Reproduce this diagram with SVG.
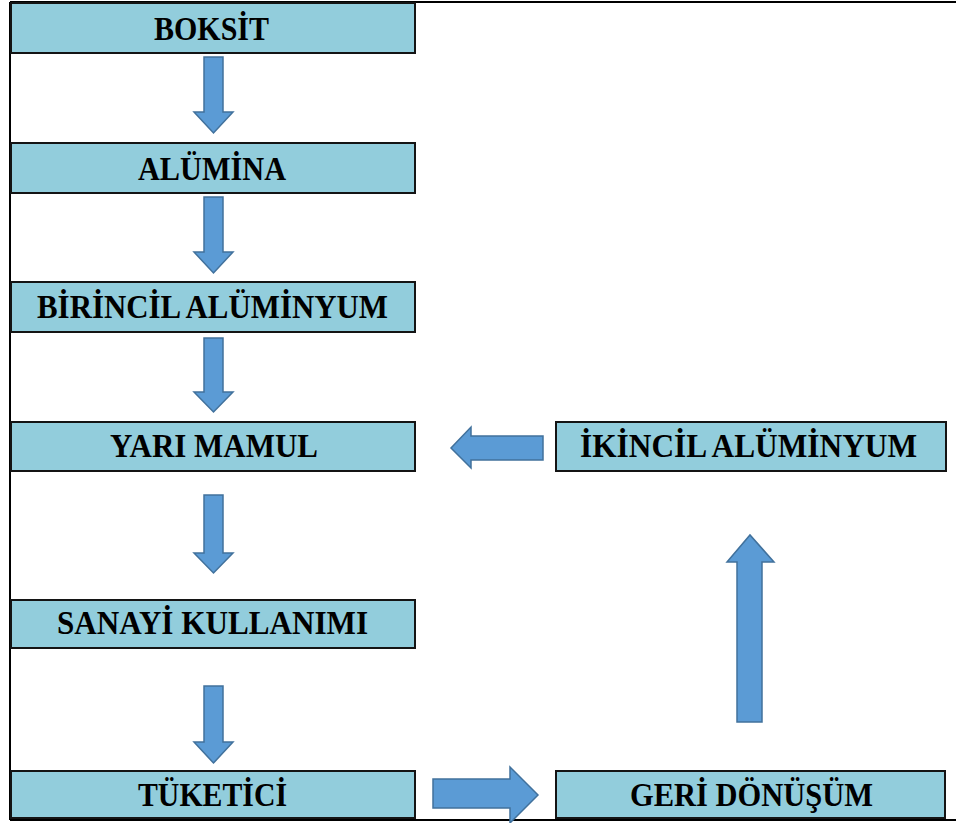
<svg xmlns="http://www.w3.org/2000/svg" width="956" height="823" viewBox="0 0 956 823">
<style>
.box{fill:#92CDDC;stroke:#141414;stroke-width:2}
.lbl{font-family:"Liberation Serif","Times New Roman",serif;font-weight:bold;font-size:34px;fill:#000;text-anchor:middle}
.arr{fill:#5B9BD5;stroke:#41719C;stroke-width:1.5;stroke-linejoin:miter}
.frame{stroke:#000;stroke-width:2;fill:none}
</style>
<rect width="956" height="823" fill="#fff"/>
<g id="frame">
<line class="frame" x1="10" y1="2" x2="956" y2="2"/>
<line class="frame" x1="10" y1="2" x2="10" y2="820"/>
<line class="frame" x1="10" y1="820" x2="956" y2="820"/>
</g>
<g id="connectors">
<path class="arr" d="M204,57 H223 V112 H233 L213.5,133 L194,112 H204 Z"/>
<path class="arr" d="M204,197 H223 V252 H233 L213.5,273 L194,252 H204 Z"/>
<path class="arr" d="M204,338 H223 V392 H233 L213.5,412 L194,392 H204 Z"/>
<path class="arr" d="M204,495 H223 V553 H233 L213.5,573 L194,553 H204 Z"/>
<path class="arr" d="M204,686 H223 V742 H233 L213.5,763 L194,742 H204 Z"/>
<path class="arr" d="M543,436 V460 H471 V468 L451,448 L471,427 V436 Z"/>
<path class="arr" d="M433,779 H510 V767 L538,795 L510,823 V808 H433 Z"/>
<path class="arr" d="M737,722 V562 H727 L750,535 L774,562 H762 V722 Z"/>
</g>
<g id="boksit">
<rect class="box" x="11" y="3" width="404" height="50"/>
<text class="lbl" x="211.5" y="40" textLength="115" lengthAdjust="spacingAndGlyphs">BOKSİT</text>
</g>
<g id="alumina">
<rect class="box" x="11" y="143" width="404" height="50"/>
<text class="lbl" x="212" y="180" textLength="148" lengthAdjust="spacingAndGlyphs">ALÜMİNA</text>
</g>
<g id="birincil">
<rect class="box" x="11" y="282" width="404" height="50"/>
<text class="lbl" x="212.5" y="318" textLength="351" lengthAdjust="spacingAndGlyphs">BİRİNCİL ALÜMİNYUM</text>
</g>
<g id="yari-mamul">
<rect class="box" x="11" y="422" width="404" height="49"/>
<text class="lbl" x="214" y="457" textLength="208" lengthAdjust="spacingAndGlyphs">YARI MAMUL</text>
</g>
<g id="sanayi">
<rect class="box" x="11" y="600" width="404" height="48"/>
<text class="lbl" x="212.5" y="634" textLength="311" lengthAdjust="spacingAndGlyphs">SANAYİ KULLANIMI</text>
</g>
<g id="tuketici">
<rect class="box" x="11" y="771" width="404" height="47"/>
<text class="lbl" x="212.5" y="806" textLength="149" lengthAdjust="spacingAndGlyphs">TÜKETİCİ</text>
</g>
<g id="ikincil">
<rect class="box" x="556" y="422" width="390" height="49"/>
<text class="lbl" x="748.5" y="457" textLength="337" lengthAdjust="spacingAndGlyphs">İKİNCİL ALÜMİNYUM</text>
</g>
<g id="geri-donusum">
<rect class="box" x="556" y="771" width="389" height="47"/>
<text class="lbl" x="751.5" y="806" textLength="243" lengthAdjust="spacingAndGlyphs">GERİ DÖNÜŞÜM</text>
</g>
</svg>
